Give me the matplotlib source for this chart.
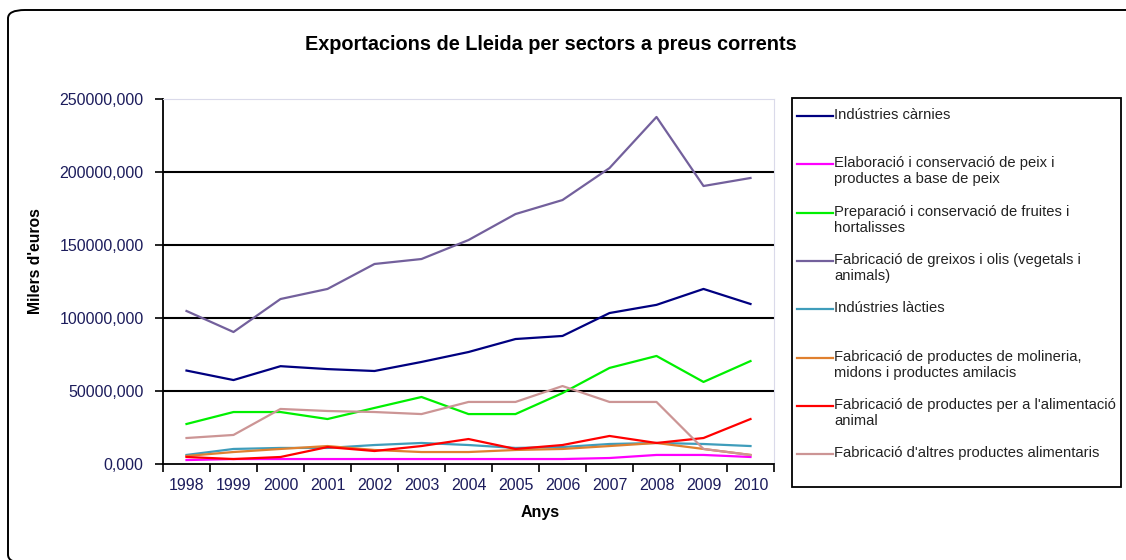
import matplotlib
matplotlib.use('Agg')
import matplotlib.pyplot as plt
from matplotlib.patches import FancyBboxPatch, Rectangle
from matplotlib.lines import Line2D
from matplotlib.ticker import FixedLocator, FuncFormatter

plt.rcParams['font.family'] = ['Liberation Sans', 'DejaVu Sans']

anys = ['1998', '1999', '2000', '2001', '2002', '2003', '2004',
        '2005', '2006', '2007', '2008', '2009', '2010']

carnies = [64000, 57500, 67000, 65000, 63700, 69900, 76700,
           85600, 87700, 103400, 109000, 119900, 109600]
peix = [2700, 3400, 3400, 3400, 3400, 3400, 3400,
        3400, 3400, 4100, 6200, 6200, 4800]
fruites = [27400, 35600, 35600, 30800, 38400, 45900, 34200,
           34200, 48600, 65800, 74000, 56200, 70500]
greixos = [104800, 90400, 113000, 119900, 137000, 140400, 153400,
           171200, 180800, 202700, 237700, 190400, 195900]
lactis = [6200, 10300, 11000, 11000, 13000, 14400, 13000,
          11000, 11600, 13700, 14400, 13700, 12300]
molineria = [5500, 8200, 10300, 12300, 9600, 8200, 8200,
             9600, 10300, 12300, 14400, 10300, 6200]
animal = [4800, 3400, 4800, 11600, 8900, 12300, 17100,
          10300, 13000, 19200, 14400, 17800, 30800]
altres = [17800, 19900, 37700, 36300, 35600, 34200, 42500,
          42500, 53400, 42500, 42500, 10300, 6200]

series = [
    ("Indústries càrnies", carnies, '#000080'),
    ("Elaboració i conservació de peix i\nproductes a base de peix", peix, '#FF00FF'),
    ("Preparació i conservació de fruites i\nhortalisses", fruites, '#00F000'),
    ("Fabricació de greixos i olis (vegetals i\nanimals)", greixos, '#73609C'),
    ("Indústries làcties", lactis, '#3F9DBB'),
    ("Fabricació de productes de molineria,\nmidons i productes amilacis", molineria, '#E0802F'),
    ("Fabricació de productes per a l'alimentació\nanimal", animal, '#FF0000'),
    ("Fabricació d'altres productes alimentaris", altres, '#CC9595'),
]

W, H = 1126, 560
fig = plt.figure(figsize=(W / 100, H / 100), dpi=100)

# outer chart frame (cut off at the right and bottom of the image)
fig.patches.append(FancyBboxPatch((8 / W, -3 / H), 1150 / W, 553 / H,
                                  boxstyle='round,pad=0,rounding_size=0.015',
                                  transform=fig.transFigure, fill=False,
                                  edgecolor='black', linewidth=1.4))

ax = fig.add_axes([163 / W, (H - 464) / H, 611 / W, 365 / H])
x = list(range(len(anys)))
for label, vals, col in series:
    ax.plot(x, vals, color=col, linewidth=1.6)

ax.set_xlim(-0.5, len(anys) - 0.5)
ax.set_ylim(0, 250000)

ax.yaxis.set_major_locator(FixedLocator([0, 50000, 100000, 150000, 200000, 250000]))
ax.yaxis.set_major_formatter(FuncFormatter(lambda v, p: f"{int(v)},000"))
for yv in [50000, 100000, 150000, 200000]:
    ax.axhline(yv, color='black', linewidth=1.5, zorder=0)

ax.xaxis.set_major_locator(FixedLocator([i - 0.5 for i in range(len(anys) + 1)]))
ax.xaxis.set_major_formatter(FuncFormatter(lambda v, p: ''))
ax.xaxis.set_minor_locator(FixedLocator(x))
ax.set_xticklabels(anys, minor=True)
ax.tick_params(axis='x', which='minor', length=0, pad=10)
ax.tick_params(axis='both', which='major', direction='out', length=6, width=1.2)
ax.tick_params(labelsize=11.5, labelcolor='#1C1C5C', which='both')
ax.tick_params(axis='y', pad=8)

for s in ['top', 'right']:
    ax.spines[s].set_color('#DADAEA')
for s in ['left', 'bottom']:
    ax.spines[s].set_color('black')
    ax.spines[s].set_linewidth(1.3)

fig.text(551 / W, 1 - 45 / H, "Exportacions de Lleida per sectors a preus corrents",
         ha='center', va='center', fontsize=14.3, fontweight='bold')
fig.text(35 / W, 1 - 261 / H, "Milers d'euros", rotation=90,
         ha='center', va='center', fontsize=11.3, fontweight='bold')
fig.text(540 / W, 1 - 512 / H, "Anys", ha='center', va='center',
         fontsize=11.5, fontweight='bold')

# legend box
fig.patches.append(Rectangle((792 / W, (H - 487) / H), 329 / W, 389 / H,
                             transform=fig.transFigure, fill=False,
                             edgecolor='black', linewidth=1.3))
for i, (label, vals, col) in enumerate(series):
    yy = 116 + i * 48.3
    fig.lines.append(Line2D([797 / W, 833 / W], [1 - yy / H, 1 - yy / H],
                            transform=fig.transFigure, color=col, linewidth=1.6))
    fig.text(834 / W, 1 - (yy - 8) / H, label, ha='left', va='top',
             fontsize=10.6, color='#222222', linespacing=1.2)

fig.savefig('out.png', dpi=100)
